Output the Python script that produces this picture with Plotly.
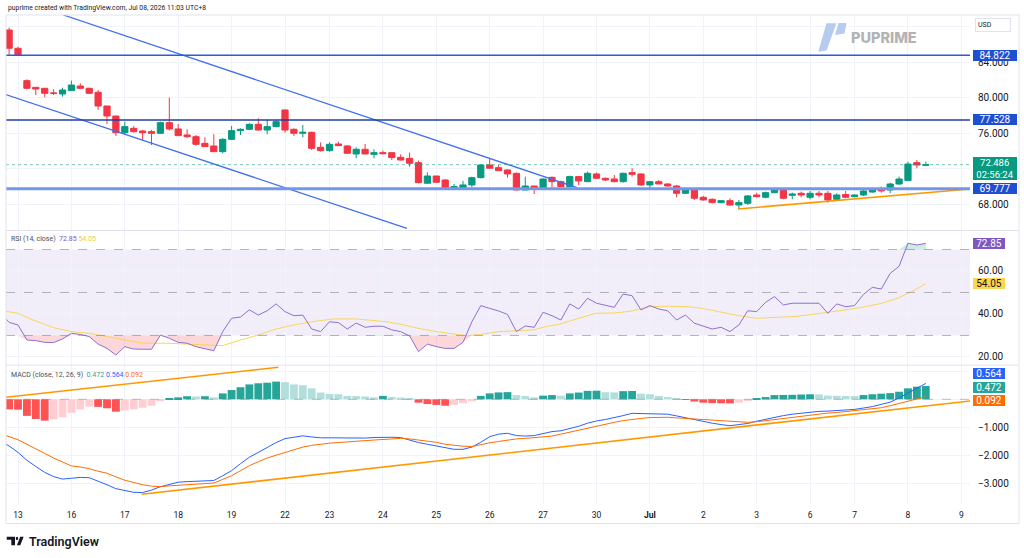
import plotly.graph_objects as go

# ------------------------------------------------------------------ data
day_labels = ["13", "16", "17", "18", "19", "22", "23", "24", "25", "26", "27",
              "30", "<b>Jul</b>", "2", "3", "6", "7", "8", "9"]
day_start_bar = [0, 6, 12, 18, 24, 30, 35, 41, 47, 53, 59, 65, 71, 77, 83, 89, 94, 100, 106]

bar_index = list(range(-1, 103))
opens = [87.66, 85.60,
         81.95, 81.20, 81.09, 80.56, 80.45, 80.83, 81.35, 81.09, 80.64, 79.10,
         77.97, 76.09, 76.58, 76.28, 76.21, 76.02, 77.22, 76.51, 75.83, 75.64,
         74.89, 74.59, 73.95, 75.34, 76.32, 76.47, 77.03, 76.39, 76.77, 78.65,
         76.47, 76.02, 76.13, 74.44, 74.07, 74.82, 74.59, 73.69, 74.22, 73.65,
         73.84, 73.84, 73.31, 73.20, 72.71, 70.39, 71.21, 70.76, 69.90, 69.90,
         70.20, 71.02, 72.45, 72.15, 71.89, 71.51, 69.63, 70.08, 69.82, 71.06,
         70.57, 70.01, 71.14, 70.57, 71.44, 70.95, 70.87, 70.57, 71.59, 71.44,
         70.20, 70.57, 70.31, 70.08, 69.26, 69.63, 68.81, 68.58, 68.21, 68.43,
         67.94, 68.13, 69.07, 68.81, 69.33, 69.63, 69.03, 69.26, 68.81, 69.26,
         69.26, 68.58, 69.12, 68.88, 69.07, 69.40, 69.71, 69.63, 70.31, 70.69,
         72.71, 72.42]
highs = [87.92, 85.78,
         82.10, 81.20, 81.09, 80.98, 81.16, 81.95, 81.65, 81.16, 80.90, 79.10,
         77.97, 77.33, 76.85, 76.39, 76.39, 77.33, 80.03, 77.07, 76.47, 75.83,
         75.57, 75.91, 75.46, 76.85, 76.58, 77.15, 77.71, 77.52, 77.52, 78.70,
         76.58, 76.96, 76.21, 75.00, 75.00, 75.08, 74.70, 74.44, 74.82, 74.22,
         74.07, 73.84, 73.65, 73.84, 72.94, 71.62, 71.21, 70.84, 70.31, 70.65,
         71.14, 72.53, 73.20, 72.45, 71.96, 71.59, 71.14, 70.08, 70.95, 71.14,
         70.69, 71.25, 71.21, 71.70, 71.59, 71.02, 71.32, 71.59, 72.08, 71.51,
         70.65, 70.76, 70.39, 70.20, 69.82, 69.71, 68.96, 68.70, 68.51, 68.70,
         68.51, 69.07, 69.33, 69.45, 69.75, 69.71, 69.33, 69.45, 69.52, 69.52,
         69.52, 69.26, 69.52, 69.12, 69.63, 69.82, 70.01, 70.46, 71.14, 72.83,
         73.01, 72.83]
lows = [84.85, 84.85,
        80.98, 80.34, 80.08, 80.34, 80.15, 80.83, 80.98, 80.45, 78.65, 77.07,
        75.72, 75.83, 76.09, 75.27, 74.70, 75.94, 76.32, 75.72, 75.46, 74.63,
        74.52, 73.95, 73.77, 75.27, 75.83, 76.39, 76.32, 75.91, 76.70, 76.09,
        75.72, 75.57, 74.14, 73.95, 73.95, 74.59, 73.77, 73.20, 73.69, 73.20,
        73.65, 73.01, 72.94, 72.26, 70.39, 70.39, 70.46, 69.90, 69.82, 69.63,
        69.93, 70.95, 72.08, 71.77, 71.02, 69.63, 69.63, 69.18, 69.63, 69.93,
        69.93, 69.93, 70.20, 70.57, 70.87, 70.65, 70.50, 70.46, 71.14, 70.08,
        69.82, 70.31, 70.01, 68.81, 69.18, 68.51, 68.43, 68.13, 68.13, 67.87,
        67.49, 67.94, 68.81, 68.70, 69.26, 68.58, 68.58, 68.81, 68.58, 68.81,
        68.21, 68.43, 68.70, 68.81, 68.96, 69.33, 69.33, 69.26, 70.20, 70.65,
        72.08, 72.38]
closes = [85.60, 84.85,
          81.09, 81.01, 80.53, 80.53, 80.90, 81.46, 81.09, 80.53, 79.10, 77.97,
          76.09, 76.77, 76.21, 76.09, 76.02, 77.22, 76.51, 75.76, 75.64, 74.78,
          74.52, 73.95, 75.34, 76.32, 76.47, 77.03, 76.39, 76.77, 77.33, 76.39,
          76.02, 76.13, 74.33, 74.07, 74.78, 74.63, 73.77, 74.22, 73.69, 73.84,
          73.73, 73.28, 73.01, 72.64, 70.46, 71.21, 70.50, 69.90, 70.01, 70.20,
          71.02, 72.45, 72.08, 71.81, 71.44, 69.63, 70.08, 69.90, 70.87, 70.57,
          70.01, 71.14, 70.65, 71.51, 70.95, 70.76, 70.57, 71.51, 71.40, 70.20,
          70.57, 70.31, 70.08, 69.26, 69.63, 68.70, 68.51, 68.21, 68.43, 67.94,
          68.21, 68.96, 68.88, 69.33, 69.63, 68.70, 69.18, 69.07, 69.26, 69.07,
          68.51, 69.07, 68.81, 69.07, 69.52, 69.71, 69.52, 70.31, 70.87, 72.56,
          72.45, 72.486]

level_prices = [84.822, 77.528, 69.777]
last_price = 72.486
countdown = "02:56:24"

upper_channel_x, upper_channel_y = [5.09, 62.8], [89.35, 69.89]
lower_channel_x, lower_channel_y = [-1.46, 43.7], [80.42, 65.30]
support_x, support_y = [80.9, 107.0], [67.49, 69.75]

ind_bars = list(range(-2, 103))
rsi_vals = [40.5, 36.1, 34.9,
            27.9, 27.6, 26.8, 26.7, 28.4, 31.0, 30.5, 29.5, 26.0, 24.0,
            20.9, 24.8, 23.7, 23.6, 23.6, 30.2, 28.7, 26.8, 26.4, 24.8,
            24.0, 22.9, 31.8, 38.0, 38.6, 41.9, 39.5, 41.5, 44.7, 41.1,
            39.2, 39.5, 33.0, 31.8, 36.4, 36.0, 33.0, 35.8, 33.8, 34.3,
            34.3, 32.6, 31.8, 29.8, 22.5, 26.0, 24.8, 24.0, 24.0, 26.8,
            36.4, 43.9, 42.6, 41.4, 39.8, 31.8, 34.4, 33.8, 40.8, 39.2,
            37.2, 44.7, 42.3, 47.3, 45.0, 44.2, 43.1, 49.3, 48.5, 41.9,
            43.9, 42.3, 41.5, 37.2, 39.5, 35.7, 34.4, 33.0, 33.8, 31.8,
            34.9, 41.5, 41.1, 45.4, 48.1, 44.2, 45.0, 45.0, 45.2, 45.0,
            40.3, 44.7, 43.4, 43.9, 49.1, 52.4, 51.6, 58.9, 62.2, 72.9,
            72.1, 72.85]
rsi_ma_x = [-1.5, 0, 1.7, 4, 6, 8, 10, 12, 14, 16.7, 19, 23, 25, 27, 29, 31, 33,
            35.4, 38, 40, 41.4, 43, 45, 47, 49, 50.4, 52, 54, 55.5, 57.9, 59.3,
            60.8, 63, 64.9, 67.1, 69, 70.9, 73.1, 75.2, 76.9, 78.7, 81, 83, 85.1,
            87.3, 89.2, 91.1, 93, 95.2, 97.1, 99, 100.4, 102]
rsi_ma_vals = [41.4, 40.3, 37.2, 33.6, 31.8, 31.0, 29.5, 27.9, 26.4, 26.4, 26.0,
               25.3, 27.9, 30.2, 33.0, 34.9, 36.4, 37.7, 37.7, 36.9, 36.4, 35.2,
               33.3, 31.8, 30.5, 29.9, 30.5, 31.8, 32.1, 32.6, 34.1, 35.2, 38.0,
               40.3, 40.5, 41.4, 43.4, 43.6, 43.4, 42.6, 41.1, 39.2, 38.0, 38.5,
               38.8, 39.8, 40.8, 41.9, 43.4, 45.0, 47.6, 50.4, 54.05]

macd_vals = [-1.50, -1.66, -1.89,
             -2.17, -2.39, -2.60, -2.75, -2.84, -2.81, -2.78, -2.79, -2.91, -3.04,
             -3.18, -3.25, -3.31, -3.32, -3.23, -3.11, -3.03, -2.95, -2.93, -2.92,
             -2.91, -2.89, -2.72, -2.54, -2.29, -2.06, -1.89, -1.71, -1.54, -1.40,
             -1.35, -1.30, -1.34, -1.37, -1.37, -1.37, -1.38, -1.39, -1.38, -1.36,
             -1.35, -1.35, -1.36, -1.45, -1.54, -1.60, -1.66, -1.72, -1.78, -1.78,
             -1.70, -1.53, -1.33, -1.24, -1.21, -1.29, -1.31, -1.29, -1.22, -1.15,
             -1.12, -1.05, -0.96, -0.85, -0.77, -0.72, -0.66, -0.58, -0.50, -0.51,
             -0.52, -0.52, -0.53, -0.59, -0.66, -0.72, -0.79, -0.85, -0.90, -0.94,
             -0.90, -0.86, -0.78, -0.71, -0.65, -0.58, -0.53, -0.49, -0.45, -0.43,
             -0.42, -0.40, -0.38, -0.36, -0.31, -0.26, -0.18, -0.10, 0.05, 0.22,
             0.42, 0.564]
signal_vals = [-1.22, -1.33, -1.44,
               -1.60, -1.76, -1.94, -2.09, -2.23, -2.37, -2.41, -2.47, -2.56, -2.63,
               -2.76, -2.88, -2.96, -3.04, -3.09, -3.11, -3.08, -3.05, -3.04, -3.02,
               -3.00, -2.98, -2.85, -2.72, -2.54, -2.36, -2.22, -2.09, -1.99, -1.89,
               -1.78, -1.70, -1.64, -1.59, -1.56, -1.54, -1.51, -1.50, -1.47, -1.45,
               -1.43, -1.41, -1.39, -1.41, -1.45, -1.49, -1.53, -1.60, -1.64, -1.67,
               -1.68, -1.61, -1.55, -1.50, -1.45, -1.41, -1.39, -1.36, -1.34, -1.31,
               -1.24, -1.17, -1.09, -1.01, -0.94, -0.88, -0.82, -0.76, -0.71, -0.68,
               -0.65, -0.64, -0.64, -0.66, -0.69, -0.70, -0.72, -0.74, -0.77, -0.80,
               -0.81, -0.82, -0.80, -0.76, -0.72, -0.69, -0.65, -0.60, -0.56, -0.52,
               -0.49, -0.47, -0.44, -0.41, -0.38, -0.34, -0.30, -0.23, -0.15, -0.05,
               0.03, 0.092]
hist_bars = list(range(-1, 103))
hist_vals = [-0.36, -0.37,
             -0.59, -0.70, -0.76, -0.71, -0.64, -0.48, -0.36, -0.26, -0.27, -0.32,
             -0.44, -0.40, -0.36, -0.30, -0.23, -0.07, 0.02, 0.07, 0.11, 0.10,
             0.11, 0.07, 0.21, 0.33, 0.43, 0.53, 0.57, 0.59, 0.63, 0.61,
             0.53, 0.50, 0.39, 0.24, 0.19, 0.18, 0.12, 0.115, 0.10, 0.07,
             0.12, 0.08, 0.06, 0.04, -0.12, -0.17, -0.20, -0.23, -0.20, -0.14,
             -0.07, 0.12, 0.21, 0.245, 0.255, 0.15, 0.12, 0.07, 0.13, 0.15,
             0.13, 0.21, 0.24, 0.30, 0.305, 0.25, 0.245, 0.29, 0.295, 0.20,
             0.18, 0.12, 0.08, 0.03, -0.02, -0.08, -0.12, -0.135, -0.14, -0.145,
             -0.12, -0.05, 0.02, 0.08, 0.15, 0.155, 0.16, 0.17, 0.18, 0.175,
             0.13, 0.125, 0.12, 0.115, 0.15, 0.18, 0.20, 0.22, 0.27, 0.39,
             0.45, 0.472]
macd_upper_x, macd_upper_y = [-1.46, 29.25], [0.071, 1.14]
macd_lower_x, macd_lower_y = [13.9, 107.2], [-3.38, -0.05]

# ------------------------------------------------------------------ styling / geometry
W, H = 1024, 558
ML, MR, MT, MB = 6, 54, 15, 54
PW, PH = W - ML - MR, H - MT - MB
FONT = "Roboto"
TXT = "#131722"
UP, DOWN = "#089981", "#f23645"
GRID = "#f0f3fa"
LEVEL_BG = "#1f4fd1"


def px(x):
    return (x - ML) / PW


def py(y):
    return (H - MB - y) / PH


fig = go.Figure()

# price pane
fig.add_trace(go.Candlestick(
    x=bar_index, open=opens, high=highs, low=lows, close=closes,
    increasing=dict(line=dict(color=UP, width=1), fillcolor=UP),
    decreasing=dict(line=dict(color=DOWN, width=1), fillcolor=DOWN),
    whiskerwidth=0, showlegend=False, hoverinfo="skip", xaxis="x", yaxis="y"))

for xs, ys in [(upper_channel_x, upper_channel_y), (lower_channel_x, lower_channel_y)]:
    fig.add_trace(go.Scatter(x=xs, y=ys, mode="lines", line=dict(color="#3f6ef0", width=1.3),
                             showlegend=False, hoverinfo="skip", xaxis="x", yaxis="y"))
fig.add_trace(go.Scatter(x=support_x, y=support_y, mode="lines", line=dict(color="#ff9800", width=1.6),
                         showlegend=False, hoverinfo="skip", xaxis="x", yaxis="y"))

# RSI pane
fig.add_trace(go.Scatter(x=ind_bars, y=[30] * len(ind_bars), mode="lines", line=dict(width=0),
                         showlegend=False, hoverinfo="skip", xaxis="x", yaxis="y2"))
fig.add_trace(go.Scatter(x=ind_bars, y=[min(v, 30) for v in rsi_vals], mode="lines", line=dict(width=0),
                         fill="tonexty", fillcolor="rgba(242,54,69,0.20)",
                         showlegend=False, hoverinfo="skip", xaxis="x", yaxis="y2"))
fig.add_trace(go.Scatter(x=ind_bars, y=[70] * len(ind_bars), mode="lines", line=dict(width=0),
                         showlegend=False, hoverinfo="skip", xaxis="x", yaxis="y2"))
fig.add_trace(go.Scatter(x=ind_bars, y=[max(v, 70) for v in rsi_vals], mode="lines", line=dict(width=0),
                         fill="tonexty", fillcolor="rgba(8,153,129,0.20)",
                         showlegend=False, hoverinfo="skip", xaxis="x", yaxis="y2"))
fig.add_trace(go.Scatter(x=rsi_ma_x, y=rsi_ma_vals, mode="lines", line=dict(color="#f9d45c", width=1),
                         showlegend=False, hoverinfo="skip", xaxis="x", yaxis="y2"))
fig.add_trace(go.Scatter(x=ind_bars, y=rsi_vals, mode="lines", line=dict(color="#8e6fd0", width=1),
                         showlegend=False, hoverinfo="skip", xaxis="x", yaxis="y2"))

# MACD pane
hist_colors = []
for i, v in enumerate(hist_vals):
    prev = hist_vals[i - 1] if i > 0 else None
    if v >= 0:
        hist_colors.append("#26a69a" if (prev is None or v > prev) else "#b2dfdb")
    else:
        hist_colors.append("#ff5252" if (prev is None or v < prev) else "#ffcdd2")
fig.add_trace(go.Bar(x=hist_bars, y=hist_vals, width=0.88, marker=dict(color=hist_colors, line=dict(width=0)),
                     showlegend=False, hoverinfo="skip", xaxis="x", yaxis="y3"))
fig.add_trace(go.Scatter(x=ind_bars, y=macd_vals, mode="lines", line=dict(color="#2962ff", width=1),
                         showlegend=False, hoverinfo="skip", xaxis="x", yaxis="y3"))
fig.add_trace(go.Scatter(x=ind_bars, y=signal_vals, mode="lines", line=dict(color="#ff6d00", width=1),
                         showlegend=False, hoverinfo="skip", xaxis="x", yaxis="y3"))
for xs, ys in [(macd_upper_x, macd_upper_y), (macd_lower_x, macd_lower_y)]:
    fig.add_trace(go.Scatter(x=xs, y=ys, mode="lines", line=dict(color="#ff9800", width=1.6),
                             showlegend=False, hoverinfo="skip", xaxis="x", yaxis="y3"))

# ------------------------------------------------------------------ shapes
shapes = []
shapes.append(dict(type="rect", xref="paper", yref="y2", x0=0, x1=1, y0=30, y1=70,
                   fillcolor="rgba(126,87,194,0.10)", line=dict(width=0), layer="below"))
for lv in (70, 50, 30):
    shapes.append(dict(type="line", xref="paper", yref="y2", x0=0, x1=1, y0=lv, y1=lv,
                       line=dict(color="rgba(120,123,134,0.55)", width=1, dash="dash")))
shapes.append(dict(type="line", xref="paper", yref="y3", x0=0, x1=1, y0=0, y1=0,
                   line=dict(color="rgba(120,123,134,0.45)", width=1, dash="dash")))
level_styles = [("#2a5bdc", 1.4), ("#1d3fa6", 1.5), ("#7396ec", 3)]
for p, (c, w) in zip(level_prices, level_styles):
    shapes.append(dict(type="line", xref="paper", yref="y", x0=0, x1=1, y0=p, y1=p,
                       line=dict(color=c, width=w)))
shapes.append(dict(type="line", xref="paper", yref="y", x0=0, x1=1, y0=last_price, y1=last_price,
                   line=dict(color="rgba(8,153,129,0.55)", width=1, dash="dot")))
for ys in (230.5, 365.2):
    shapes.append(dict(type="line", xref="paper", yref="paper", x0=0, x1=px(1019), y0=py(ys), y1=py(ys),
                       line=dict(color="#e0e3eb", width=1)))
shapes.append(dict(type="rect", xref="paper", yref="paper", x0=0, x1=px(1019), y0=py(523.5), y1=1,
                   line=dict(color="#e0e3eb", width=1)))


def path(points):
    return "M " + " L ".join(f"{px(a):.5f},{py(b):.5f}" for a, b in points) + " Z"


# PU Prime logo mark
shapes.append(dict(type="path", xref="paper", yref="paper",
                   path=path([(818.3, 51.7), (826.5, 50.5), (836.5, 23.3), (826.5, 23.3)]),
                   fillcolor="#b7cbef", line=dict(width=0)))
shapes.append(dict(type="path", xref="paper", yref="paper",
                   path=path([(838.5, 23.0), (846.5, 23.0), (844.5, 33.5), (835.0, 35.0)]),
                   fillcolor="#b7cbef", line=dict(width=0)))
# TradingView logo mark
shapes.append(dict(type="path", xref="paper", yref="paper",
                   path=path([(6.7, 536.8), (15.0, 536.8), (15.0, 545.2), (11.3, 545.2), (11.3, 539.8), (6.7, 539.8)]),
                   fillcolor=TXT, line=dict(width=0)))
shapes.append(dict(type="circle", xref="paper", yref="paper", x0=px(15.8), x1=px(18.2), y0=py(540.0), y1=py(536.8),
                   fillcolor=TXT, line=dict(width=0)))
shapes.append(dict(type="path", xref="paper", yref="paper",
                   path=path([(20.2, 536.8), (23.6, 536.8), (20.3, 545.2), (16.9, 545.2)]),
                   fillcolor=TXT, line=dict(width=0)))

# ------------------------------------------------------------------ annotations
ann = []
ann.append(dict(xref="paper", yref="paper", x=px(6), y=py(8), xanchor="left", yanchor="middle",
                text="puprime created with TradingView.com, Jul 08, 2026 11:03 UTC+8",
                showarrow=False, font=dict(family=FONT, size=6.8, color=TXT)))
ann.append(dict(xref="paper", yref="paper", x=px(9), y=py(238.5), xanchor="left", yanchor="middle",
                text=("RSI (14, close) &nbsp;<span style='color:#7e57c2'>72.85</span> "
                      "<span style='color:#f5c842'>54.05</span>"),
                showarrow=False, font=dict(family=FONT, size=7, color="#4a4d57")))
ann.append(dict(xref="paper", yref="paper", x=px(9), y=py(375), xanchor="left", yanchor="middle",
                text=("MACD (close, 12, 26, 9) &nbsp;<span style='color:#26a69a'>0.472</span> "
                      "<span style='color:#2962ff'>0.564</span> <span style='color:#ff6d00'>0.092</span>"),
                showarrow=False, font=dict(family=FONT, size=7, color="#4a4d57")))
ann.append(dict(xref="paper", yref="paper", x=px(974.5), y=py(24.5), xanchor="left", yanchor="middle",
                text="USD", showarrow=False, align="left", width=30, borderpad=2,
                bgcolor="white", bordercolor="#e0e3eb", borderwidth=1,
                font=dict(family=FONT, size=7, color=TXT)))
ann.append(dict(xref="paper", yref="paper", x=px(848.5), y=py(37.5), xanchor="left", yanchor="middle",
                text="PUPRIME", showarrow=False,
                font=dict(family="Inter", size=14.5, color="#b3b3b3", weight=800)))
ann.append(dict(xref="paper", yref="paper", x=px(26.5), y=py(541.2), xanchor="left", yanchor="middle",
                text="TradingView", showarrow=False,
                font=dict(family=FONT, size=12.5, color=TXT, weight=600)))

BOX_X = px(972.5)


def value_box(text, y, yref, bg, fg="white", width=44, yshift=0, yanchor="middle", size=10):
    return dict(xref="paper", yref=yref, x=BOX_X, y=y, xanchor="left", yanchor=yanchor,
                yshift=yshift, text=text, showarrow=False, bgcolor=bg,
                borderwidth=0, borderpad=0, width=width, align="center",
                font=dict(family=FONT, size=size, color=fg))


for p in level_prices:
    ann.append(value_box(f"{p:.3f}", p, "y", LEVEL_BG))
ann.append(value_box(f"{last_price:.3f}<br>{countdown}", last_price, "y", UP, yanchor="top",
                     yshift=7.5, size=9.5))
ann.append(value_box(f"{rsi_vals[-1]:.2f}", rsi_vals[-1], "y2", "#7e57c2", width=32))
ann.append(value_box(f"{rsi_ma_vals[-1]:.2f}", rsi_ma_vals[-1], "y2", "#fdd54f", fg=TXT, width=32))
ann.append(value_box(f"{macd_vals[-1]:.3f}", macd_vals[-1], "y3", "#2962ff", width=32, yshift=10))
ann.append(value_box(f"{hist_vals[-1]:.3f}", hist_vals[-1], "y3", "#26a69a", width=32, yshift=-1))
ann.append(value_box(f"{signal_vals[-1]:.3f}", signal_vals[-1], "y3", "#ff6d00", width=32, yshift=-3.3))

# ------------------------------------------------------------------ layout
price_ticks = [68, 72, 76, 80, 84, 88]
price_hidden = {72, 88}          # covered by the value / currency boxes in the reference
rsi_ticks = [20, 40, 60]
macd_ticks = [1, 0, -1, -2, -3]
macd_hidden = {1, 0}             # covered by the MACD value boxes in the reference
axis_font = dict(family=FONT, size=10, color=TXT)
common_y = dict(side="right", anchor="x", showgrid=True, gridcolor=GRID, gridwidth=1, zeroline=False,
                showline=False, ticks="", tickfont=axis_font, ticklabelstandoff=7, fixedrange=True)

fig.update_layout(
    width=W, height=H, margin=dict(l=ML, r=MR, t=MT, b=MB, pad=0),
    paper_bgcolor="white", plot_bgcolor="white", showlegend=False,
    barmode="overlay", boxgap=0.3, boxgroupgap=0,
    xaxis=dict(domain=[0, 1], range=[-1.35, 106.97], anchor="y3", tickmode="array",
               tickvals=day_start_bar, ticktext=day_labels, showgrid=True, gridcolor=GRID,
               zeroline=False, showline=False, ticks="", rangeslider=dict(visible=False),
               tickfont=dict(family=FONT, size=8.5, color=TXT), ticklabelstandoff=4),
    yaxis=dict(domain=[py(229.5), 1], range=[65.18, 89.35], tickmode="array", tickvals=price_ticks,
               ticktext=["" if t in price_hidden else f"{t:.3f}" for t in price_ticks], **common_y),
    yaxis2=dict(domain=[py(364.5), py(231)], range=[16.5, 78.6], tickmode="array", tickvals=rsi_ticks,
                ticktext=[f"{t:.2f}" for t in rsi_ticks], **common_y),
    yaxis3=dict(domain=[0, py(366)], range=[-3.726, 1.185], tickmode="array", tickvals=macd_ticks,
                ticktext=["" if t in macd_hidden else f"{t:.3f}".replace("-", "\u2212") for t in macd_ticks],
                **common_y),
    shapes=shapes, annotations=ann,
)

fig.write_html("out.html")
